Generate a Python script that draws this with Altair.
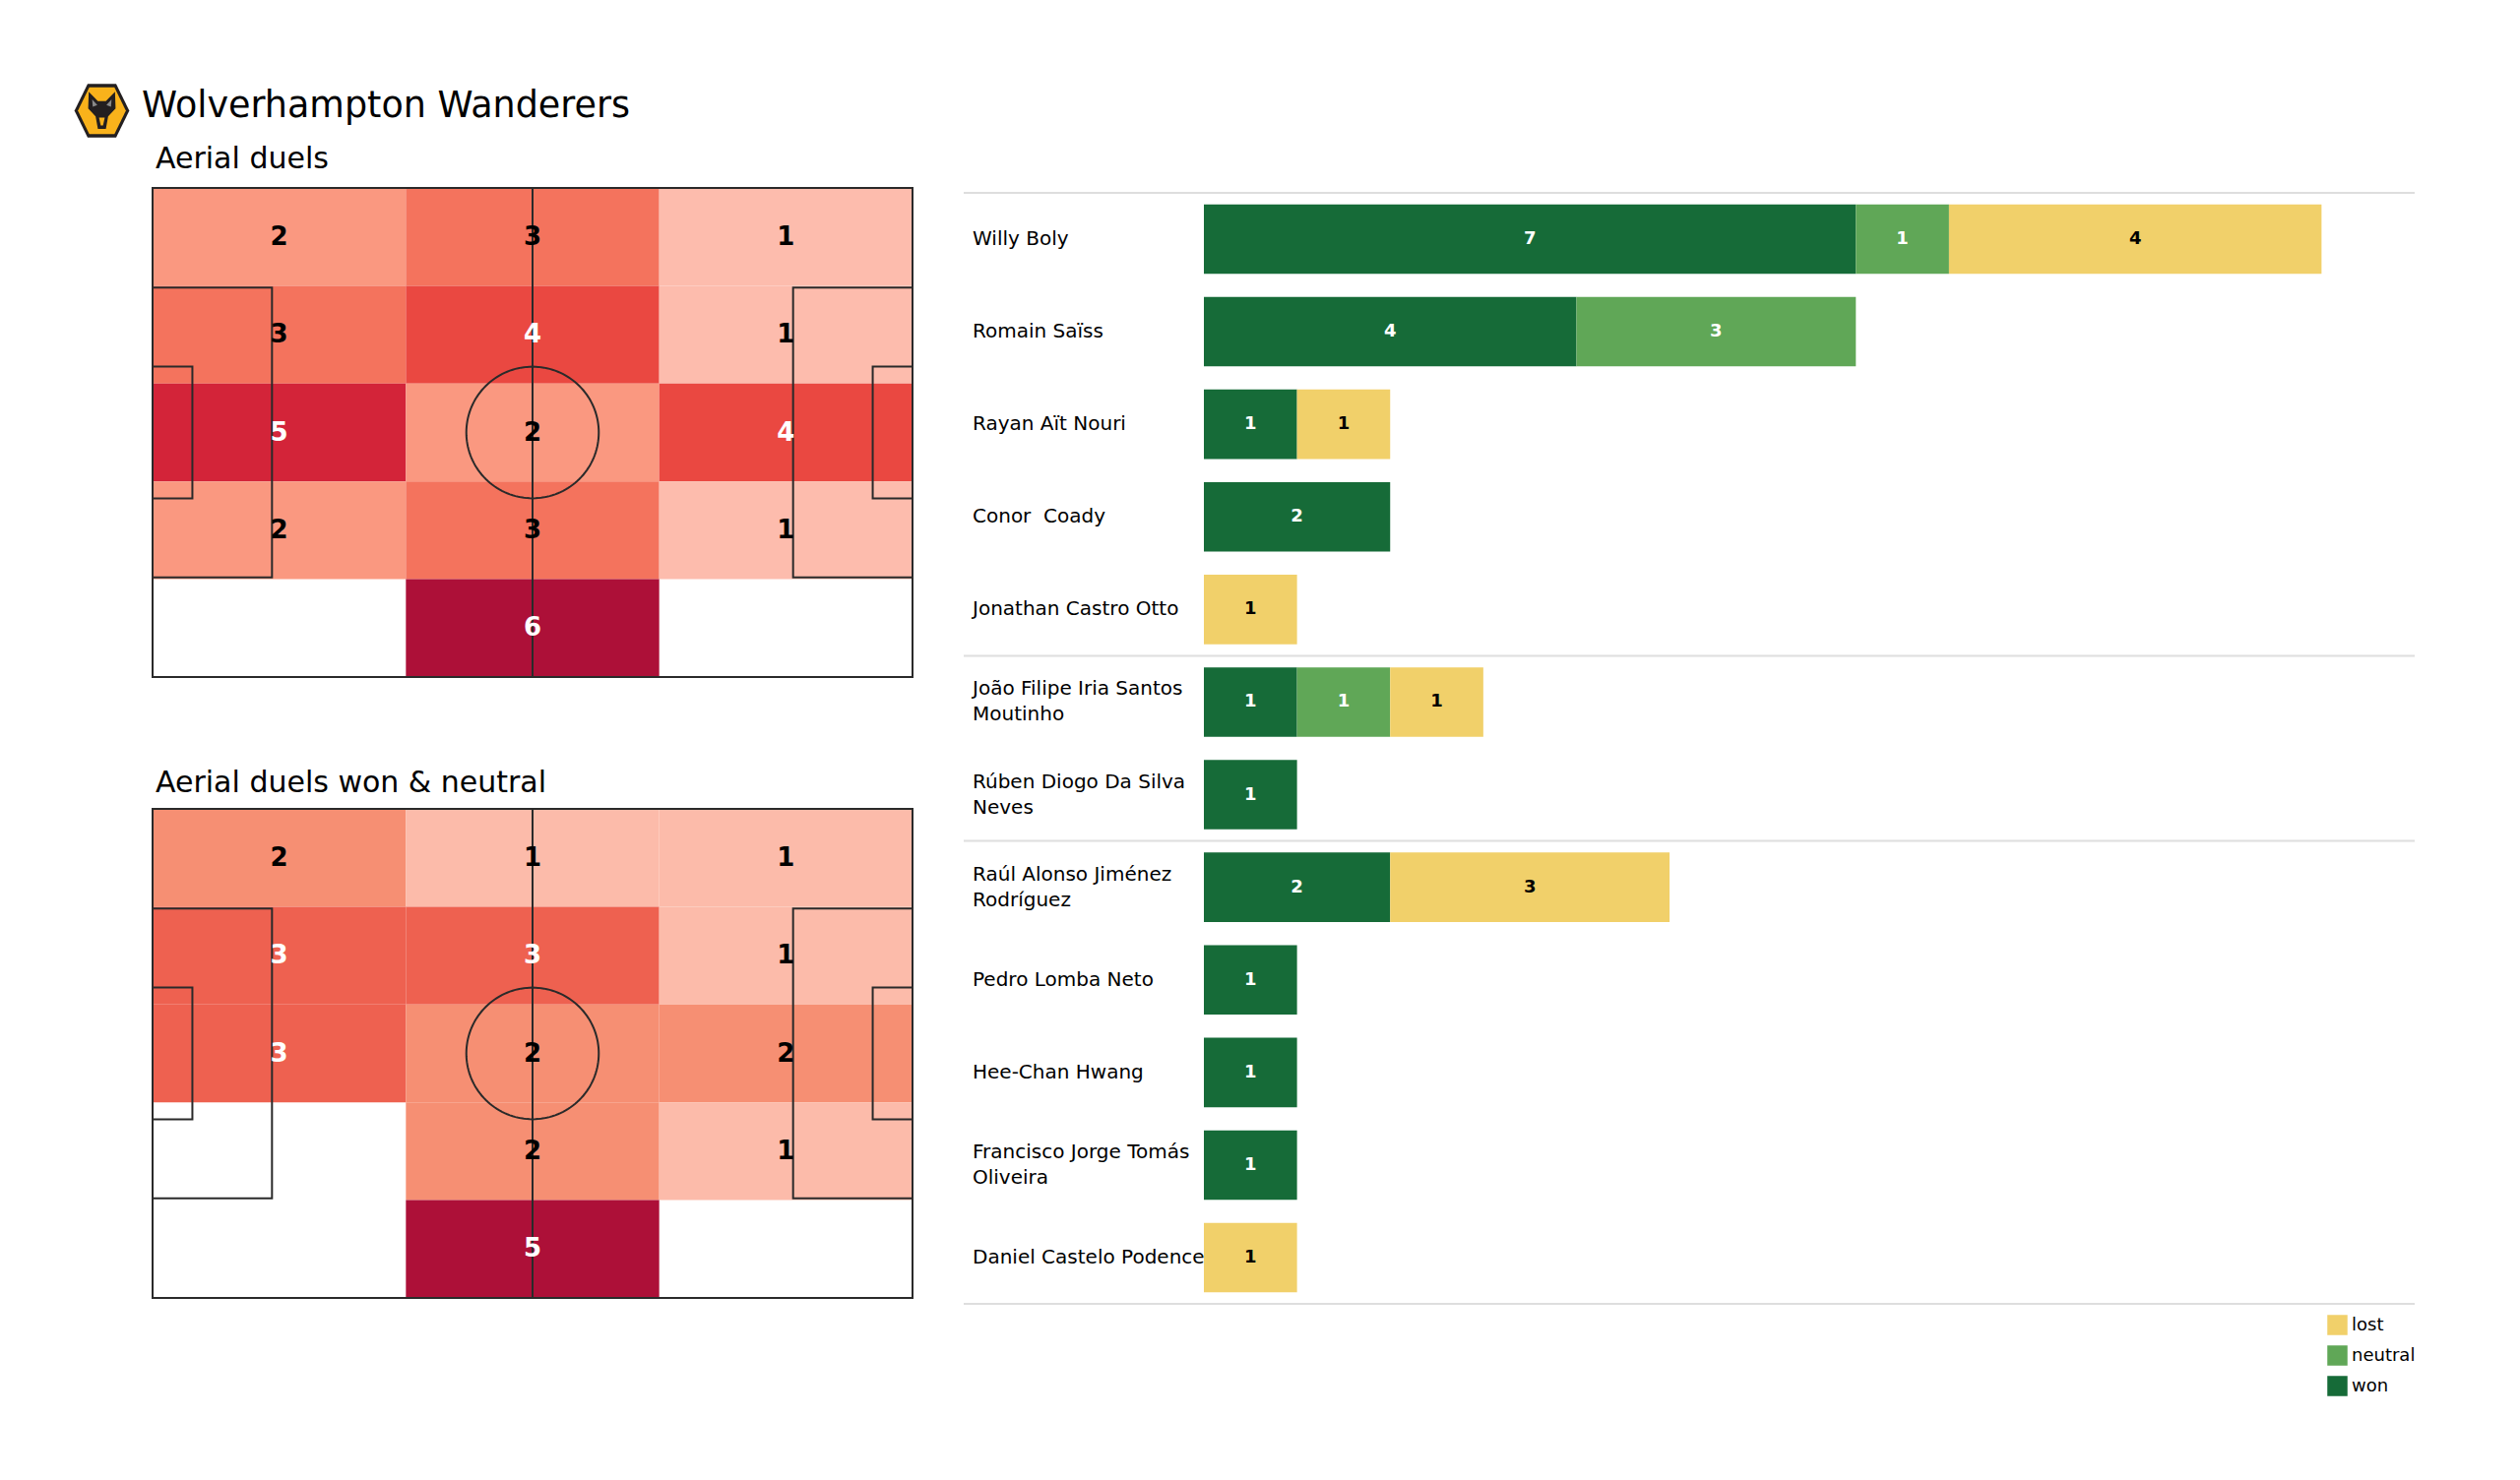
import base64
import altair as alt
import numpy as np
import pandas as pd

# ---------------- data ----------------
TEAM = "Wolverhampton Wanderers"
TITLE_ALL = "Aerial duels"
TITLE_WN = "Aerial duels won & neutral"

# counts per pitch zone: rows top -> bottom, columns left -> right
HEAT_ALL = [
    [2, 3, 1],
    [3, 4, 1],
    [5, 2, 4],
    [2, 3, 1],
    [0, 6, 0],
]
HEAT_WON_NEUTRAL = [
    [2, 1, 1],
    [3, 3, 1],
    [3, 2, 2],
    [0, 2, 1],
    [0, 5, 0],
]

PLAYERS = [
    "Willy Boly",
    "Romain Saïss",
    "Rayan Aït Nouri",
    "Conor  Coady",
    "Jonathan Castro Otto",
    "João Filipe Iria Santos\nMoutinho",
    "Rúben Diogo Da Silva\nNeves",
    "Raúl Alonso Jiménez\nRodríguez",
    "Pedro Lomba Neto",
    "Hee-Chan Hwang",
    "Francisco Jorge Tomás\nOliveira",
    "Daniel Castelo Podence",
]
POSITION_GROUP = ["DF"] * 5 + ["MF"] * 2 + ["FW"] * 5
WON = [7, 4, 1, 2, 0, 1, 1, 2, 1, 1, 1, 0]
NEUTRAL = [1, 3, 0, 0, 0, 1, 0, 0, 0, 0, 0, 0]
LOST = [4, 0, 1, 0, 1, 1, 0, 3, 0, 0, 0, 1]

OUTCOMES = ["won", "neutral", "lost"]
LEGEND_ORDER = ["lost", "neutral", "won"]
OUTCOME_COLORS = {"won": "#166b38", "neutral": "#60a757", "lost": "#f1d06a"}

HEAT_STOPS = [1 / 6, 1 / 5, 1 / 3, 2 / 5, 1 / 2, 3 / 5, 2 / 3, 5 / 6, 1.0]
HEAT_COLORS = ["#fdbcad", "#fcbbaa", "#fa9880", "#f68f73",
               "#f4735d", "#ee6150", "#ea4841", "#d32439", "#ad1038"]

# ---------------- style / geometry ----------------
FONT = "DejaVu Sans"
PL, PW = 105.0, 68.0
BOX_L, BOX_W = 16.5, 40.32
SIX_L, SIX_W = 5.5, 18.32
CIRCLE_R = 9.15
LINE = "#2a2a2a"

PITCH_W, PITCH_H = 772, 497
BAR_W = 1230
ROW_PX = 94.1
TOP_EXTRA = 0.052
BAR_H = 0.75
BAR_X_MAX = 13
NAME_LINE_H = 26

LOGO_SVG = """<svg xmlns='http://www.w3.org/2000/svg' viewBox='0 0 100 100'>
<polygon points='25,3 75,3 98,50 75,97 25,97 2,50' fill='#231f20'/>
<polygon points='28,9 72,9 92,50 72,91 28,91 8,50' fill='#f9b21b'/>
<polygon points='27,17 43,33 57,33 73,17 74,46 61,60 57,82 43,82 39,60 26,46' fill='#231f20'/>
<polygon points='33,30 42,40 34,43' fill='#8a8a8a'/>
<polygon points='67,30 58,40 66,43' fill='#8a8a8a'/>
<polygon points='45,62 55,62 52,76 48,76' fill='#f9b21b'/>
</svg>"""
LOGO_URI = "data:image/svg+xml;base64," + base64.b64encode(LOGO_SVG.encode()).decode()


def xs():
    return alt.Scale(domain=[0, PL], nice=False, zero=False)


def ys():
    return alt.Scale(domain=[0, PW], nice=False, zero=False, reverse=True)


def heat_df(grid):
    mx = max(max(r) for r in grid)
    nr, nc = len(grid), len(grid[0])
    cw, rh = PL / nc, PW / nr
    rows = []
    for r, row in enumerate(grid):
        for c, v in enumerate(row):
            if v == 0:
                continue
            rows.append(dict(x=c * cw, x2=(c + 1) * cw, y=r * rh, y2=(r + 1) * rh,
                             xc=(c + 0.5) * cw, yc=(r + 0.5) * rh, count=v,
                             frac=v / mx, label=str(v),
                             txt="white" if v / mx >= 0.55 else "black"))
    return pd.DataFrame(rows)


box_df = pd.DataFrame([
    dict(x=0, x2=PL, y=0, y2=PW),
    dict(x=0, x2=BOX_L, y=(PW - BOX_W) / 2, y2=(PW + BOX_W) / 2),
    dict(x=PL - BOX_L, x2=PL, y=(PW - BOX_W) / 2, y2=(PW + BOX_W) / 2),
    dict(x=0, x2=SIX_L, y=(PW - SIX_W) / 2, y2=(PW + SIX_W) / 2),
    dict(x=PL - SIX_L, x2=PL, y=(PW - SIX_W) / 2, y2=(PW + SIX_W) / 2),
])
half_df = pd.DataFrame(dict(x=[PL / 2], y=[0.0], y2=[PW]))
theta = np.linspace(0, 2 * np.pi, 145)
circ_df = pd.DataFrame(dict(x=PL / 2 + CIRCLE_R * np.cos(theta),
                            y=PW / 2 + CIRCLE_R * np.sin(theta),
                            order=np.arange(len(theta))))


def pitch(grid, title, offset):
    df = heat_df(grid)
    cells = alt.Chart(df).mark_rect().encode(
        x=alt.X("x:Q", scale=xs(), axis=None), x2="x2:Q",
        y=alt.Y("y:Q", scale=ys(), axis=None), y2="y2:Q",
        fill=alt.Fill("frac:Q", scale=alt.Scale(domain=HEAT_STOPS, range=HEAT_COLORS), legend=None),
    )
    boxes = alt.Chart(box_df).mark_rect(fillOpacity=0, stroke=LINE, strokeWidth=2).encode(
        x=alt.X("x:Q", scale=xs(), axis=None), x2="x2:Q",
        y=alt.Y("y:Q", scale=ys(), axis=None), y2="y2:Q",
    )
    half = alt.Chart(half_df).mark_rule(color=LINE, strokeWidth=2).encode(
        x=alt.X("x:Q", scale=xs(), axis=None),
        y=alt.Y("y:Q", scale=ys(), axis=None), y2="y2:Q",
    )
    circ = alt.Chart(circ_df).mark_line(color=LINE, strokeWidth=2).encode(
        x=alt.X("x:Q", scale=xs(), axis=None),
        y=alt.Y("y:Q", scale=ys(), axis=None),
        order="order:Q",
    )
    txt = alt.Chart(df).mark_text(
        font=FONT, fontSize=26, fontWeight="bold", baseline="middle"
    ).encode(
        x=alt.X("xc:Q", scale=xs(), axis=None),
        y=alt.Y("yc:Q", scale=ys(), axis=None),
        text="label:N",
        color=alt.Color("txt:N", scale=None),
    )
    return alt.layer(cells, boxes, half, circ, txt).properties(
        width=PITCH_W, height=PITCH_H,
        title=alt.TitleParams(text=title, anchor="start", font=FONT, fontSize=30,
                              fontWeight="normal", color="black", offset=offset, dx=4),
    )


p1 = pitch(HEAT_ALL, TITLE_ALL, 13)
p2 = pitch(HEAT_WON_NEUTRAL, TITLE_WN, 10)

# ---------------- header (logo + team name) ----------------
head_df = pd.DataFrame(dict(u=[LOGO_URI], team=[TEAM]))
logo = alt.Chart(head_df).mark_image(width=58, height=58).encode(
    url="u:N", x=alt.value(-51.5), y=alt.value(28.5)
)
team = alt.Chart(head_df).mark_text(font=FONT, fontSize=36.5, align="left", baseline="middle",
                                    color="black").encode(
    text="team:N", x=alt.value(-11), y=alt.value(24)
)
header = alt.layer(logo, team).properties(width=PITCH_W, height=57)

# ---------------- bars ----------------
n = len(PLAYERS)
seg_rows = []
for i, name in enumerate(PLAYERS):
    start = 0
    for outcome, vals in zip(OUTCOMES, [WON, NEUTRAL, LOST]):
        v = vals[i]
        if v > 0:
            seg_rows.append(dict(player=name, row=i, outcome=outcome, start=start,
                                 end=start + v, mid=start + v / 2, value=v,
                                 y=i - BAR_H / 2, y2=i + BAR_H / 2,
                                 txt="black" if outcome == "lost" else "white"))
        start += v
seg_df = pd.DataFrame(seg_rows)
name_df = pd.DataFrame(dict(row=list(range(n)), name=PLAYERS))
# keep doubled spaces visible in SVG output
name_df["shown"] = name_df["name"].str.replace("  ", " \u00a0", regex=False)
name_df["multi"] = name_df["name"].str.contains("\n")
seps = [-0.5] + [i - 0.5 for i in range(1, n) if POSITION_GROUP[i] != POSITION_GROUP[i - 1]] + [n - 0.5]
sep_df = pd.DataFrame(dict(y=seps))

bx = alt.Scale(domain=[0, BAR_X_MAX], nice=False, zero=True)
by = alt.Scale(domain=[-0.5 - TOP_EXTRA, n - 0.5], nice=False, zero=False, reverse=True)

rules = alt.Chart(sep_df).mark_rule(color="#dedede", strokeWidth=2).encode(
    y=alt.Y("y:Q", scale=by, axis=None), x=alt.value(-244), x2=alt.value(BAR_W)
)
rects = alt.Chart(seg_df).mark_rect().encode(
    x=alt.X("start:Q", scale=bx, axis=None), x2="end:Q",
    y=alt.Y("y:Q", scale=by, axis=None), y2="y2:Q",
    color=alt.Color("outcome:N",
                    scale=alt.Scale(domain=LEGEND_ORDER, range=[OUTCOME_COLORS[k] for k in LEGEND_ORDER]),
                    legend=alt.Legend(title=None, orient="none", legendX=2209, legendY=1145,
                                      symbolType="square", symbolSize=420, symbolStrokeWidth=0,
                                      labelFont=FONT, labelFontSize=18, rowPadding=10,
                                      labelColor="black")),
)
nums = alt.Chart(seg_df).mark_text(font=FONT, fontSize=18, fontWeight="bold", baseline="middle").encode(
    x=alt.X("mid:Q", scale=bx, axis=None),
    y=alt.Y("row:Q", scale=by, axis=None),
    text="value:Q",
    color=alt.Color("txt:N", scale=None),
)


def name_layer(df, dy):
    return alt.Chart(df).mark_text(font=FONT, fontSize=20, align="left", baseline="middle",
                                   lineBreak="\n", lineHeight=NAME_LINE_H, color="black",
                                   dy=dy).encode(
        x=alt.value(-235),
        y=alt.Y("row:Q", scale=by, axis=None),
        text="shown:N",
    )


names1 = name_layer(name_df[~name_df["multi"]], 0)
names2 = name_layer(name_df[name_df["multi"]], -NAME_LINE_H / 2)
bars = alt.layer(rules, rects, nums, names1, names2).properties(
    width=BAR_W, height=ROW_PX * (n + TOP_EXTRA))

body = alt.hconcat(alt.vconcat(p1, p2, spacing=92), bars, spacing=50)

chart = alt.vconcat(header, body, spacing=5).resolve_scale(
    color="independent", fill="independent"
).properties(
    padding={"left": 66, "top": 75, "right": 20, "bottom": 20},
    background="white",
).configure_view(stroke=None)

chart.save("out.html", embed_options={"renderer": "svg", "actions": False})
